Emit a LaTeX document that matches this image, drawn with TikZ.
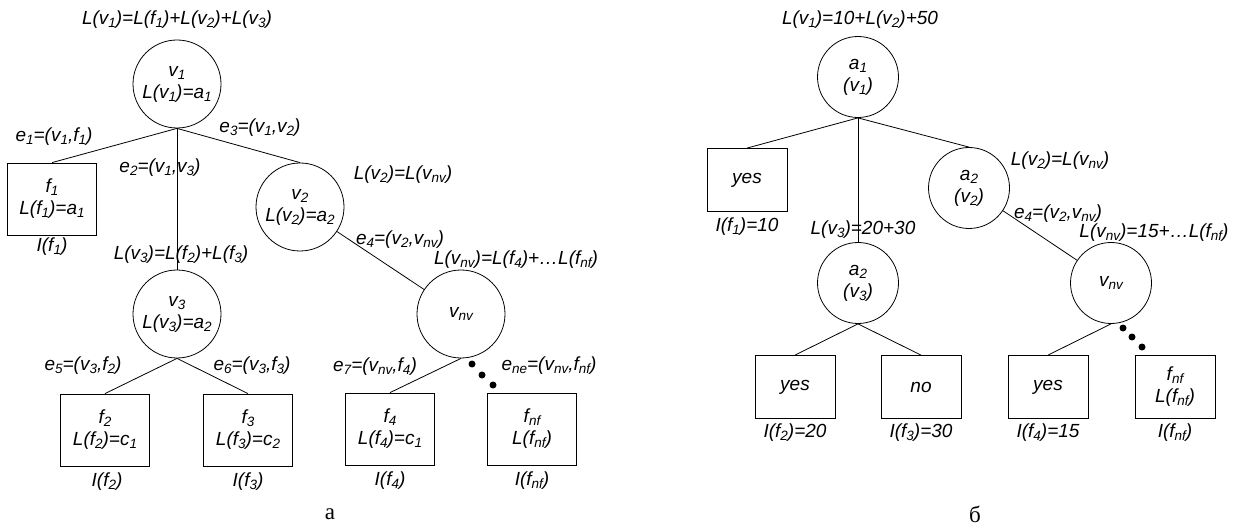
\documentclass[tikz,border=0pt]{standalone}
\usepackage{fontspec}
\setmainfont{Liberation Sans}
\newfontfamily\capfont{Liberation Serif}
% lowered index in a slightly smaller size
\newcommand\sbs[1]{\raisebox{-3pt}{\fontsize{13.5}{14}\selectfont #1}}
\begin{document}
\begin{tikzpicture}[x=1pt,y=-1pt,
  every node/.style={font=\fontsize{19}{22}\selectfont\itshape, inner sep=0pt},
  bigv/.style={draw, circle, minimum size=88pt, align=center},
  smallv/.style={draw, circle, minimum size=81pt, align=center},
  bigleaf/.style={draw, rectangle, minimum width=89pt, minimum height=72pt, align=center},
  smallleaf/.style={draw, rectangle, minimum width=80pt, minimum height=63pt, align=center},
  caption/.style={font=\fontsize{23}{25}\selectfont\capfont},
  dotmark/.style={circle, fill, minimum size=7pt, inner sep=0pt},
  every path/.style={line width=0.8pt}]
\useasboundingbox (0,0) rectangle (1239,529);

% ---------- tree a ----------
\node[bigv] (v1) at (177,84) {v\sbs{1}\\L(v\sbs{1})=a\sbs{1}};
\node[bigleaf] (f1) at (52,199) {f\sbs{1}\\L(f\sbs{1})=a\sbs{1}};
\node[bigv] (v2) at (300,207) {v\sbs{2}\\L(v\sbs{2})=a\sbs{2}};
\node[bigv] (v3) at (177,314) {v\sbs{3}\\L(v\sbs{3})=a\sbs{2}};
\node[bigv] (vnv) at (461,314) {v\sbs{nv}};
\node[bigleaf] (f2) at (105,430) {f\sbs{2}\\L(f\sbs{2})=c\sbs{1}};
\node[bigleaf] (f3) at (248,430) {f\sbs{3}\\L(f\sbs{3})=c\sbs{2}};
\node[bigleaf] (f4) at (390,429) {f\sbs{4}\\L(f\sbs{4})=c\sbs{1}};
\node[bigleaf] (fnf) at (532,429) {f\sbs{nf}\\L(f\sbs{nf})};

\draw (v1.south) -- (f1.north);
\draw (v1.south) -- (v3.north);
\draw (v1.south) -- (v2.north);
\draw (v2) -- (vnv);
\draw (v3.south) -- (f2.north);
\draw (v3.south) -- (f3.north);
\draw (vnv.south) -- (f4.north);

\node[dotmark] (da1) at (472,364) {};
\node[dotmark] (da2) at (482,375) {};
\node[dotmark] (da3) at (493,385) {};

\node (lv1) at (177,20) {L(v\sbs{1})=L(f\sbs{1})+L(v\sbs{2})+L(v\sbs{3})};
\node (le1) at (54,137) {e\sbs{1}=(v\sbs{1},f\sbs{1})};
\node (le2) at (160,168) {e\sbs{2}=(v\sbs{1},v\sbs{3})};
\node (le3) at (260,128) {e\sbs{3}=(v\sbs{1},v\sbs{2})};
\node (lif1) at (52,247) {I(f\sbs{1})};
\node (lv2) at (403,175) {L(v\sbs{2})=L(v\sbs{nv})};
\node (le4) at (400,240) {e\sbs{4}=(v\sbs{2},v\sbs{nv})};
\node (lvnv) at (516,260) {L(v\sbs{nv})=L(f\sbs{4})+\ldots L(f\sbs{nf})};
\node (lv3) at (181,255) {L(v\sbs{3})=L(f\sbs{2})+L(f\sbs{3})};
\node (le5) at (83,366) {e\sbs{5}=(v\sbs{3},f\sbs{2})};
\node (le6) at (252,366) {e\sbs{6}=(v\sbs{3},f\sbs{3})};
\node (le7) at (375,367) {e\sbs{7}=(v\sbs{nv},f\sbs{4})};
\node (lene) at (549,366) {e\sbs{ne}=(v\sbs{nv},f\sbs{nf})};
\node (lif2) at (107,482) {I(f\sbs{2})};
\node (lif3) at (248,482) {I(f\sbs{3})};
\node (lif4) at (390,481) {I(f\sbs{4})};
\node (lifnf) at (532,481) {I(f\sbs{nf})};
\node[caption] (capa) at (330,514) {а};

% ---------- tree б ----------
\node[smallv] (a1) at (858,77) {a\sbs{1}\\(v\sbs{1})};
\node[smallleaf] (y1) at (747,180) {yes};
\node[smallv] (a2) at (969,188) {a\sbs{2}\\(v\sbs{2})};
\node[smallv] (a3) at (858,283) {a\sbs{2}\\(v\sbs{3})};
\node[smallv] (rvnv) at (1111,283) {v\sbs{nv}};
\node[smallleaf] (y2) at (795,387) {yes};
\node[smallleaf] (n3) at (921,387) {no};
\node[smallleaf] (y4) at (1048,387) {yes};
\node[smallleaf] (rfnf) at (1175,387) {f\sbs{nf}\\L(f\sbs{nf})};

\draw (a1.south) -- (y1.north);
\draw (a1.south) -- (a3.north);
\draw (a1.south) -- (a2.north);
\draw (a2) -- (rvnv);
\draw (a3.south) -- (y2.north);
\draw (a3.south) -- (n3.north);
\draw (rvnv.south) -- (y4.north);

\node[dotmark] (db1) at (1123,328) {};
\node[dotmark] (db2) at (1132,337) {};
\node[dotmark] (db3) at (1142,347) {};

\node (rlv1) at (860,20) {L(v\sbs{1})=10+L(v\sbs{2})+50};
\node (rlif1) at (747,227) {I(f\sbs{1})=10};
\node (rlv2) at (1060,161) {L(v\sbs{2})=L(v\sbs{nv})};
\node (rle4) at (1058,214) {e\sbs{4}=(v\sbs{2},v\sbs{nv})};
\node (rlvnv) at (1154,233) {L(v\sbs{nv})=15+\ldots L(f\sbs{nf})};
\node (rlv3) at (863,230) {L(v\sbs{3})=20+30};
\node (rlif2) at (795,433) {I(f\sbs{2})=20};
\node (rlif3) at (921,433) {I(f\sbs{3})=30};
\node (rlif4) at (1048,433) {I(f\sbs{4})=15};
\node (rlifnf) at (1175,433) {I(f\sbs{nf})};
\node[caption] (capb) at (975,514) {б};
\end{tikzpicture}
\end{document}
